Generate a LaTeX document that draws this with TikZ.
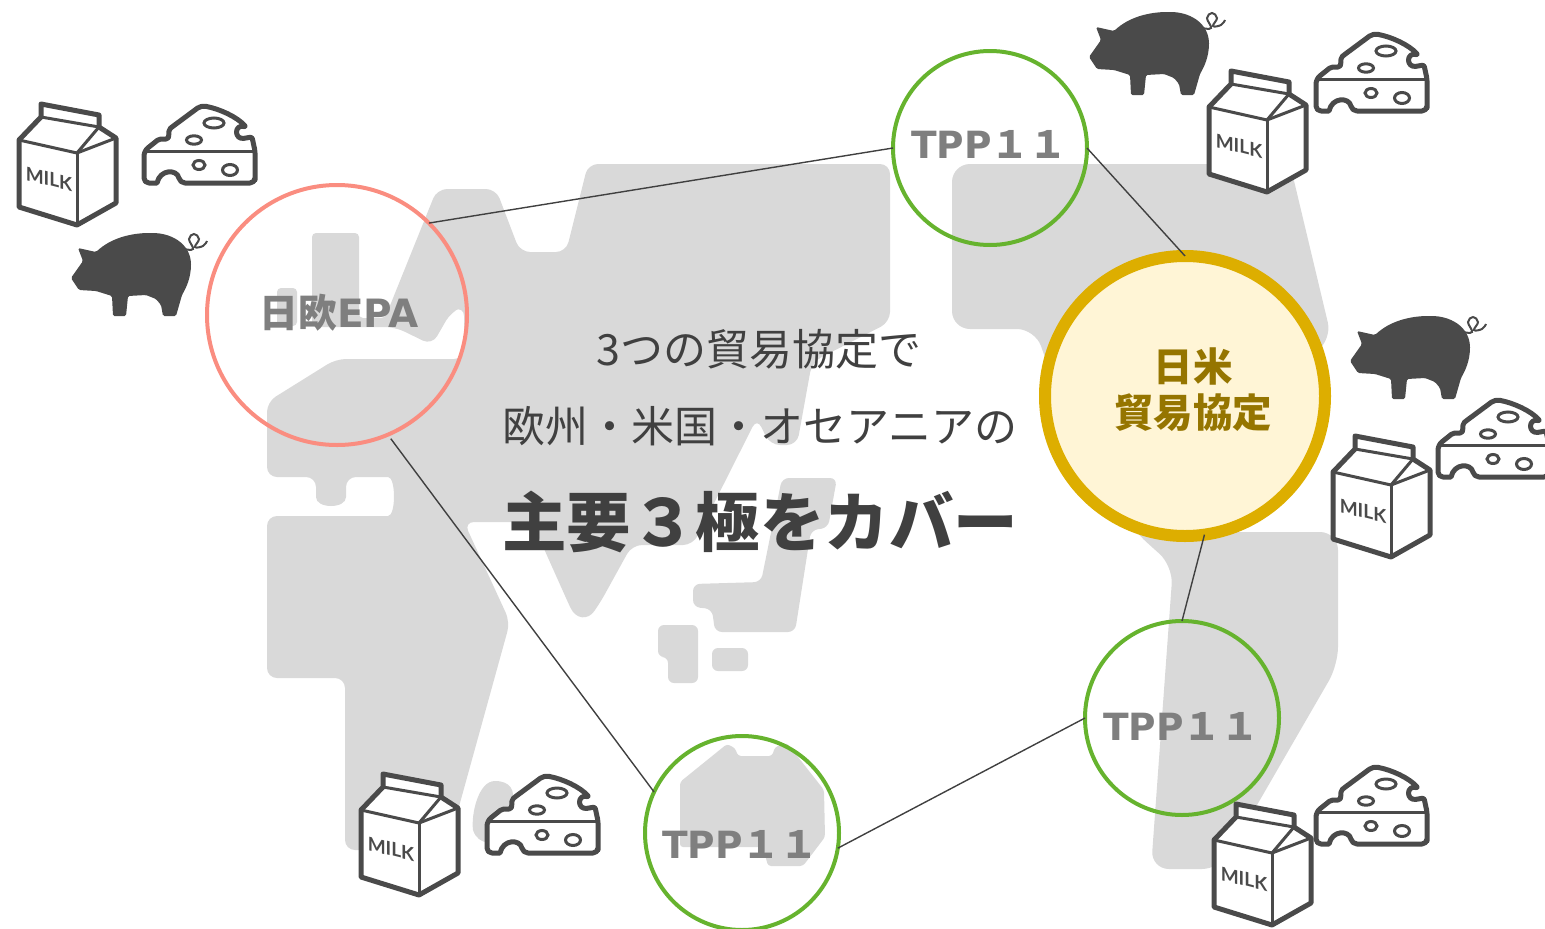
\documentclass[tikz,border=0pt]{standalone}
\usepackage{fontspec}
\usepackage{xcolor}
\usetikzlibrary{calc,positioning}
\newfontfamily\jpfont{Noto Sans CJK JP}
\newfontfamily\latfont{DejaVu Sans}
\newfontfamily\milkfont{Lato}
\definecolor{mapgray}{HTML}{D9D9D9}
\definecolor{inkgray}{HTML}{404040}
\definecolor{icongray}{HTML}{4A4A4A}
\definecolor{labelgray}{HTML}{7F7F7F}
\definecolor{epared}{HTML}{FA8D80}
\definecolor{tppgreen}{HTML}{66B32E}
\definecolor{goldline}{HTML}{DDAE00}
\definecolor{goldfill}{HTML}{FFF5D6}
\definecolor{goldtext}{HTML}{957500}
\tikzset{%
	epanode/.style  = {draw=epared, line width=4pt, circle, inner sep=0pt, outer sep=0pt, minimum size=260pt},
	tppnode/.style  = {draw=tppgreen, line width=4pt, circle, inner sep=0pt, outer sep=0pt, minimum size=194pt},
	goldnode/.style = {draw=goldline, fill=goldfill, line width=12pt, circle, inner sep=0pt, outer sep=0pt, minimum size=280pt},
	link/.style     = {draw=inkgray, line width=1.4pt},
	tag/.style      = {text=labelgray, font=\jpfont\bfseries\fontsize{37.5}{37.5}\selectfont, inner sep=0pt},
	thin line/.style= {text=inkgray, font=\jpfont\fontsize{43}{43}\selectfont, inner sep=0pt},
	landmass/.style = {fill=mapgray, rounded corners=10pt},
	cartonpic/.pic  = {
		\draw[fill=white, draw=icongray, line width=5pt, line join=round] (24,3) -- (82,14) -- (82,26) -- (99,37) -- (99,102) -- (60,124) -- (2,106) -- (2,39) -- (24,16) -- cycle;
		\draw[icongray, line width=3pt, line join=round] (2,39) -- (60,52) -- (99,37);
		\draw[icongray, line width=3pt] (60,52) -- (60,124);
		\draw[icongray, line width=3pt] (24,16) -- (82,26) -- (60,52);
		\node (-lbl) [text=icongray, yslant=-0.25, inner sep=0pt, font=\milkfont\bfseries\fontsize{19}{19}\selectfont] at (32,78) {MILK};
	},
	cheesepic/.pic  = {
		\draw[fill=white, draw=icongray, line width=5pt, line join=round, rounded corners=2pt] (2,47) -- (17,35) -- (22,35) .. controls (29,35) and (25,27) .. (30,23) -- (57,3) -- (62,2) .. controls (78,5) and (95,13) .. (104,23) .. controls (92,20) and (92,36) .. (104,34) -- (110,33) -- (113,47) -- (113,74) [rounded corners=5pt] -- (113,79) -- (38,79) [sharp corners] .. controls (35,65) and (18,65) .. (15,79) [rounded corners=5pt] -- (2,79) -- cycle;
		\draw[icongray, line width=3pt] (2,47) -- (113,47);
		\draw[icongray, line width=3pt] (72,19) ellipse (10pt and 5pt);
		\draw[icongray, line width=3pt] (52,36) ellipse (7.5pt and 4.2pt);
		\draw[icongray, line width=3pt] (57,61) ellipse (6pt and 4.5pt);
		\draw[icongray, line width=3pt] (88,66) ellipse (7.5pt and 5.5pt);
	},
	pigpic/.pic     = {
		\fill[icongray, rounded corners=1.5pt] (0,45) -- (12,28) -- (7,15) -- (25,19) .. controls (40,5) and (60,0) .. (80,0) .. controls (100,0) and (118,10) .. (120,30) .. controls (120,45) and (115,55) .. (111,62) -- (105,83) -- (92,83) -- (90,72) -- (85,66) -- (75,62) -- (57,63) -- (55,83) -- (42,83) -- (41,63) -- (25,58) -- (8,57) -- cycle;
		\draw[icongray, line width=2pt] plot[smooth, tension=0.7] coordinates {(113,16) (122,16) (118,6) (123,1) (128,6) (124,14) (132,13) (136,8)};
	},
}
\begin{document}
\begin{tikzpicture}[x=1pt,y=-1pt]
	\clip (0,0) rectangle (1545,929);
	% map
	\fill[landmass] (465,189) -- (496,189) -- (520,252) -- (566,252) -- (588,164) -- (890,164) -- (890,322) -- (812,362) -- (797,445) -- (770,445) -- (757,418) -- (693,545) -- (632,545) -- (600,603) .. controls (588,620) and (576,620) .. (566,598) -- (532,522) -- (464,522) -- (510,622) -- (447,850) -- (345,850) -- (345,678) -- (267,678) -- (267,516) -- (378,516) .. controls (396,516) and (396,477) .. (378,477) -- (346,477) -- (346,487) .. controls (346,509) and (316,509) .. (316,487) -- (316,477) -- (267,477) -- (267,402) -- (336,359) -- (464,359) -- (464,306) -- (451,312) -- (432,345) -- (395,327) [rounded corners=4pt] -- (312,327) -- (312,233) -- (359,233) -- (359,318) -- (385,318) [rounded corners=10pt] -- (437,189) -- cycle;
	\fill[landmass, rounded corners=4pt] (277,288) rectangle (297,326);
	\fill[landmass, rounded corners=18pt] (952,164) -- (1290,164) -- (1332,340) -- (1250,400) -- (1220,532) -- (1338,532) -- (1338,665) -- (1220,869) -- (1151,869) -- (1173,566) -- (1133,530) -- (1060,400) -- (1035,329) -- (952,329) -- cycle;
	\fill[landmass, rounded corners=7pt] (782,478) -- (837,478) -- (828,528) -- (811,530) -- (795,632) -- (715,632) -- (712,609) -- (693,607) -- (693,584) -- (761,582) -- cycle;
	\fill[landmass, rounded corners=6pt] (658,625) -- (698,625) -- (698,683) -- (668,683) -- (668,657) -- (658,657) -- cycle;
	\fill[landmass, rounded corners=6pt] (712,648) rectangle (748,671);
	\fill[fill=mapgray] (495,781) .. controls (510,781) and (516,790) .. (512,805) -- (503,833) .. controls (497,846) and (478,846) .. (473,830) .. controls (471,815) and (478,781) .. (495,781) -- cycle;
	\fill[landmass, rounded corners=3pt] (680,782) -- (727,744) -- (735,748) -- (738,756) -- (772,756) -- (775,747) -- (787,743) -- (824,790) -- (825,837) -- (803,866) -- (768,866) -- (763,847) -- (680,847) -- cycle;
	% circles
	\node (epa) [epanode] at (337,315) {};
	\node (tppa) [tppnode] at (990,148) {};
	\node (tppb) [tppnode] at (1182,718) {};
	\node (tppc) [tppnode] at (742,833) {};
	\node (gold) [goldnode] at (1185,396) {};
	% links
	\draw[link] (epa.45) -- (tppa.180);
	\draw[link] (tppa.0) -- (gold.90);
	\draw[link] (gold.-82) -- (tppb.90);
	\draw[link] (tppb.180) -- (tppc.-9);
	\draw[link, shorten >=5pt] (tppc.155) -- (epa.-67);
	% labels
	\node (epatxt) [tag, font=\jpfont\bfseries\fontsize{39}{39}\selectfont] at (339,313) {日欧{\latfont EPA}};
	\node (tppatxt) [tag] at (989,144) {{\latfont TPP}１１};
	\node (tppbtxt) [tag] at (1181,726) {{\latfont TPP}１１};
	\node (tppctxt) [tag] at (740,844) {{\latfont TPP}１１};
	\node (goldtxt) [text=goldtext, font=\jpfont\bfseries\fontsize{39.5}{46}\selectfont, align=center, inner sep=0pt] at (1193,390) {日米\\貿易協定};
	\node (lineone) [thin line] at (759,349) {3つの貿易協定で};
	\node (linetwo) [thin line] at (760,426) {欧州・米国・オセアニアの};
	\node (linethree) [text=inkgray, font=\jpfont\bfseries\fontsize{64.5}{64.5}\selectfont, inner sep=0pt] at (760,522) {主要３極をカバー};
	% icons
	\pic (milka) at (17,101) {cartonpic};
	\pic (milkb) at (1207,68) {cartonpic};
	\pic (milkc) at (1331,433) {cartonpic};
	\pic (milkd) at (359,771) {cartonpic};
	\pic (milke) at (1212,801) {cartonpic};
	\pic (cheesea) at (142,104) {cheesepic};
	\pic (cheeseb) at (1314,32) {cheesepic};
	\pic (cheesec) at (1436,398) {cheesepic};
	\pic (cheesed) at (485,774) {cheesepic};
	\pic (cheesee) at (1314,765) {cheesepic};
	\pic (piga) at (71,233) {pigpic};
	\pic (pigb) at (1089,12) {pigpic};
	\pic (pigc) at (1350,316) {pigpic};
\end{tikzpicture}
\end{document}
